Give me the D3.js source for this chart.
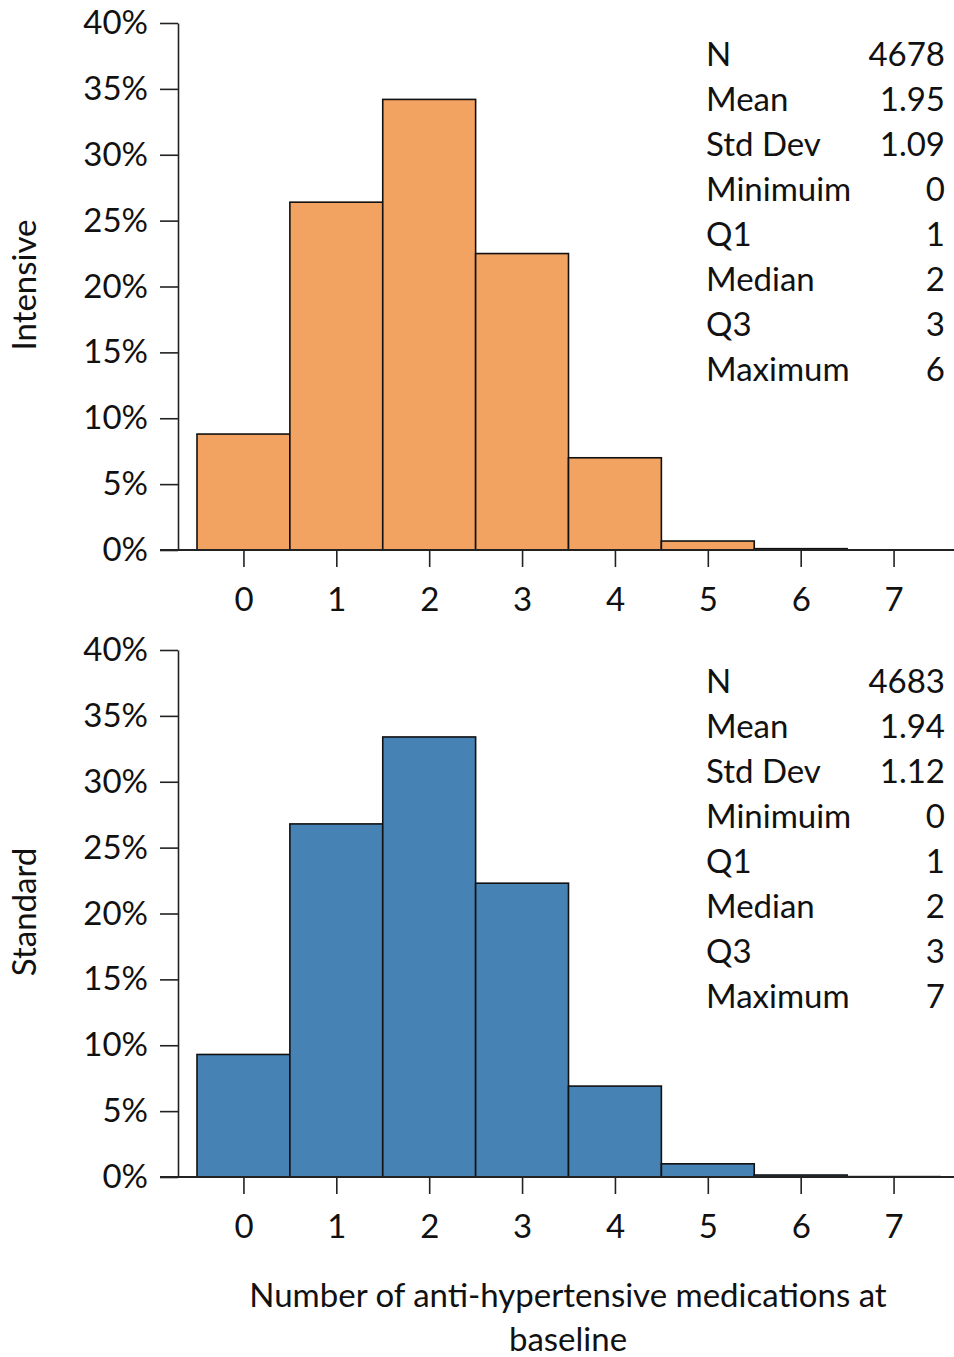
<!DOCTYPE html>
<html><head><meta charset="utf-8">
<script src="https://cdn.jsdelivr.net/npm/d3@7"></script>
<style>body{margin:0;background:#fff}svg{display:block}text{font-family:Lato,"Open Sans",sans-serif;fill:#111}</style>
</head><body>
<script>
const categories = [0,1,2,3,4,5,6,7];
const intensivePct = [8.8, 26.4, 34.2, 22.5, 7.0, 0.68, 0.1, 0];
const standardPct  = [9.3, 26.8, 33.4, 22.3, 6.9, 1.0, 0.15, 0.03];
const yTicks = [0,5,10,15,20,25,30,35,40];
const statLabels = ["N","Mean","Std Dev","Minimuim","Q1","Median","Q3","Maximum"];
const intensiveStats = ["4678","1.95","1.09","0","1","2","3","6"];
const standardStats  = ["4683","1.94","1.12","0","1","2","3","7"];
const panelNames = ["Intensive","Standard"];
const xTitle = ["Number of anti-hypertensive medications at","baseline"];

const W=954,H=1357;
const svg=d3.select("body").append("svg").attr("width",W).attr("height",H);
const x=d3.scaleLinear().domain([-0.5,7.5]).range([197,940]);
const FS=33;

function panel(top, vals, stats, color, name){
  const y=d3.scaleLinear().domain([0,40]).range([top+527, top]);
  const g=svg.append("g");
  const ya=g.append("g").attr("transform","translate(178,0)")
    .call(d3.axisLeft(y).tickValues(yTicks).tickFormat(d=>d+"%").tickSize(18).tickSizeOuter(0).tickPadding(12));
  ya.selectAll("path,line").attr("stroke","#222").attr("stroke-width",1.6);
  ya.selectAll("text").attr("font-size",FS).attr("font-family","Lato").attr("fill","#111");
  g.selectAll("rect").data(categories).join("rect")
    .attr("x",d=>x(d-0.5)).attr("width",d=>x(d+0.5)-x(d-0.5))
    .attr("y",(d,i)=>y(vals[i])).attr("height",(d,i)=>y(0)-y(vals[i]))
    .attr("fill",color).attr("stroke","#111").attr("stroke-width",1.6);
  g.append("line").attr("x1",160).attr("x2",954).attr("y1",y(0)).attr("y2",y(0)).attr("stroke","#222").attr("stroke-width",1.8);
  const xa=g.append("g").attr("transform",`translate(0,${y(0)})`)
    .call(d3.axisBottom(x).tickValues(categories).tickFormat(d3.format("d")).tickSize(17).tickSizeOuter(0).tickPadding(21));
  xa.select(".domain").remove();
  xa.selectAll("line").attr("stroke","#222").attr("stroke-width",1.6);
  xa.selectAll("text").attr("font-size",FS).attr("font-family","Lato").attr("fill","#111");
  g.append("text").attr("transform",`translate(36,${top+262}) rotate(-90)`).attr("text-anchor","middle")
    .attr("font-size",FS).text(name);
  const st=g.append("g");
  statLabels.forEach((l,i)=>{
    const yy=top+43+i*45;
    st.append("text").attr("x",706).attr("y",yy).attr("font-size",FS).text(l);
    st.append("text").attr("x",945).attr("y",yy).attr("text-anchor","end").attr("font-size",FS).text(stats[i]);
  });
}
panel(23,intensivePct,intensiveStats,"#F3A361",panelNames[0]);
panel(650,standardPct,standardStats,"#4682B4",panelNames[1]);
xTitle.forEach((t,i)=>svg.append("text").attr("x",568).attr("y",1307+i*44).attr("text-anchor","middle").attr("font-size",FS).text(t));
</script>
</body></html>
